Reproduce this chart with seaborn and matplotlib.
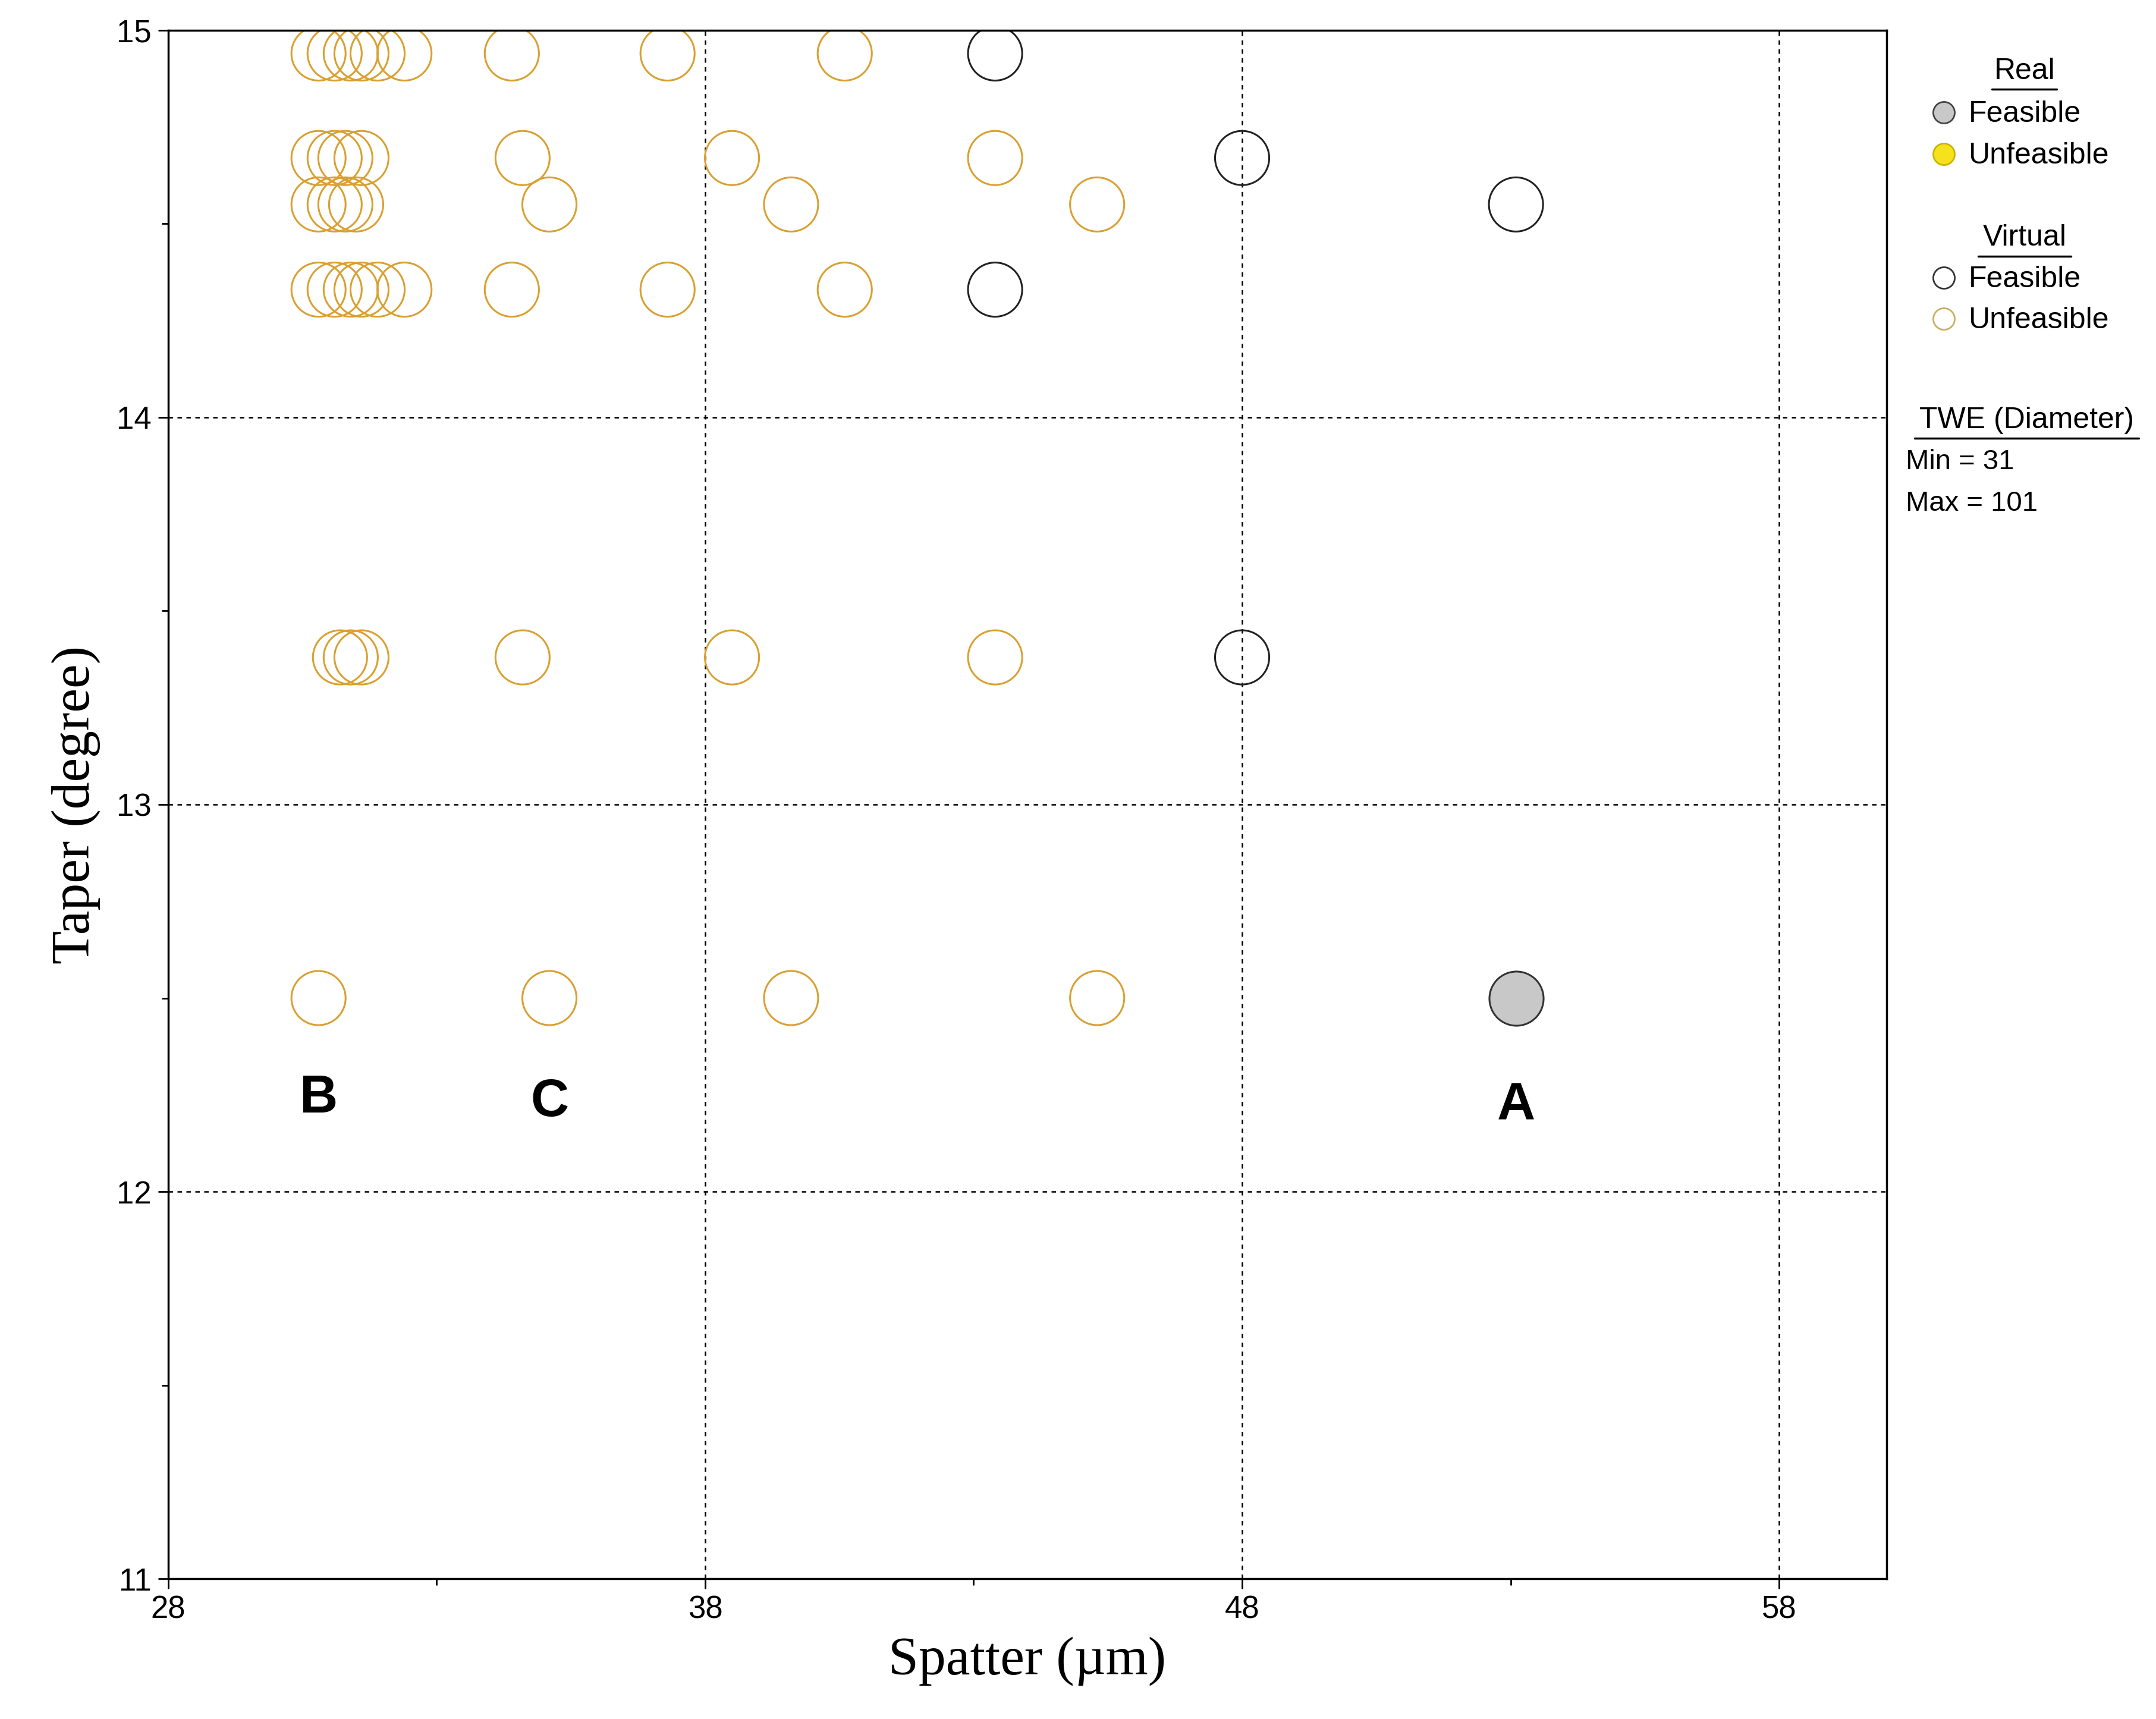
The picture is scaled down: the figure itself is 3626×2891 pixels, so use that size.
import matplotlib
matplotlib.use("Agg")
import matplotlib.pyplot as plt
import seaborn as sns
import pandas as pd
from matplotlib.lines import Line2D

sns.set_style("white")
plt.rcParams["text.color"] = "black"
plt.rcParams["xtick.color"] = "black"
plt.rcParams["ytick.color"] = "black"
plt.rcParams["axes.labelcolor"] = "black"

# Virtual unfeasible points
vu_x = [30.8, 31.1, 31.4, 31.6, 31.9, 32.4, 34.4, 37.3, 40.6,
        30.8, 31.1, 31.3, 31.6, 34.6, 38.5, 43.4,
        30.8, 31.1, 31.3, 31.5, 35.1, 39.6, 45.3,
        30.8, 31.1, 31.4, 31.6, 31.9, 32.4, 34.4, 37.3, 40.6,
        31.2, 31.4, 31.6, 34.6, 38.5, 43.4,
        30.8, 35.1, 39.6, 45.3]
vu_y = [14.94]*9 + [14.67]*7 + [14.55]*7 + [14.33]*9 + [13.38]*6 + [12.5]*4
# Virtual feasible points
vf_x = [43.4, 48.0, 53.1, 43.4, 48.0]
vf_y = [14.94, 14.67, 14.55, 14.33, 13.38]
# Real feasible
rf_x = [53.1]
rf_y = [12.5]

labels = ["A", "B", "C"]
label_x = [53.1, 30.8, 35.1]
label_y = [12.22, 12.24, 12.23]

fig = plt.figure(figsize=(36.26, 28.91), dpi=100)
ax = fig.add_axes([0.078, 0.0816, 0.797, 0.9008])

S = 4300
sns.scatterplot(x=vu_x, y=vu_y, ax=ax, s=S, facecolor="none", edgecolor="#d9a030", linewidth=2.2, legend=False)
sns.scatterplot(x=vf_x, y=vf_y, ax=ax, s=S, facecolor="none", edgecolor="#222222", linewidth=2.2, legend=False)
sns.scatterplot(x=rf_x, y=rf_y, ax=ax, s=S, color="#c8c8c8", edgecolor="#333333", linewidth=2.2, legend=False)

for t, x, y in zip(labels, label_x, label_y):
    ax.text(x, y, t, ha="center", va="center", fontsize=64, fontweight="bold", family="Liberation Sans")

ax.set_xlim(28, 60)
ax.set_ylim(11, 15)
ax.set_xticks([28, 38, 48, 58])
ax.set_xticks([33, 43, 53], minor=True)
ax.set_yticks([11, 12, 13, 14, 15])
ax.set_yticks([11.5, 12.5, 13.5, 14.5], minor=True)
ax.tick_params(which="major", length=12, width=2, labelsize=38, direction="out", bottom=True, left=True, pad=8)
ax.tick_params(which="minor", length=8, width=2, direction="out", bottom=True, left=True)
for lab in ax.get_xticklabels() + ax.get_yticklabels():
    lab.set_family("Liberation Sans")
ax.grid(True, which="major", color="black", linestyle=(0, (3, 3)), linewidth=1.8)
for sp in ax.spines.values():
    sp.set_linewidth(2.5)
    sp.set_color("black")
ax.set_xlabel("Spatter (µm)", fontsize=66, family="Liberation Serif", labelpad=14)
ax.set_ylabel("Taper (degree)", fontsize=66, family="Liberation Serif", labelpad=20)

# Legend panel
def head(text, x, y, w):
    fig.text(x, y, text, ha="center", va="baseline", fontsize=36, family="Liberation Sans")
    fig.add_artist(Line2D([x - w / 2, x + w / 2], [y - 0.006, y - 0.006], color="black", lw=2.5))

def item(y, face, edge, text):
    fig.add_artist(Line2D([0.9015], [y + 0.0055], marker="o", markersize=26, markerfacecolor=face,
                          markeredgecolor=edge, markeredgewidth=2, linestyle="none"))
    fig.text(0.913, y, text, fontsize=36, va="baseline", family="Liberation Sans")

head("Real", 0.939, 0.954, 0.03)
item(0.929, "#c8c8c8", "#444444", "Feasible")
item(0.905, "#f5e21c", "#c8b400", "Unfeasible")
head("Virtual", 0.939, 0.857, 0.043)
item(0.833, "none", "#333333", "Feasible")
item(0.809, "none", "#c8b060", "Unfeasible")
head("TWE (Diameter)", 0.940, 0.751, 0.104)
fig.text(0.884, 0.727, "Min = 31", fontsize=34, va="baseline", family="Liberation Sans")
fig.text(0.884, 0.703, "Max = 101", fontsize=34, va="baseline", family="Liberation Sans")

fig.savefig("out.png", dpi=100, facecolor="white")
